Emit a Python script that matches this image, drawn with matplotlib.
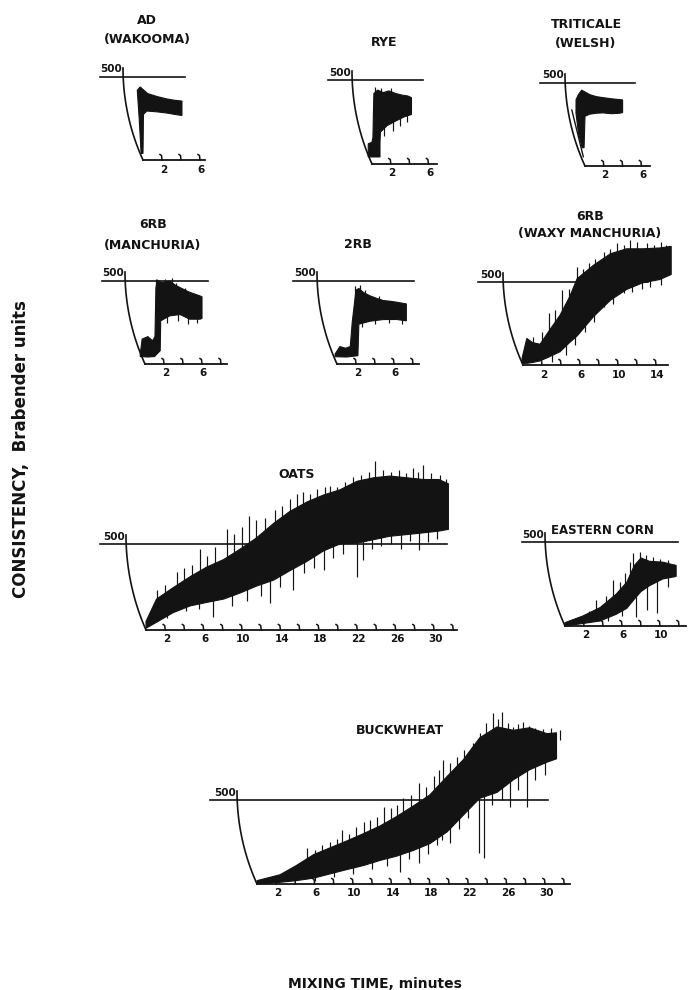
"""
Farinograph mixing curves for nine cereal flours, redrawn on one sheet.
Every panel shares the same scale: about 9.5 px per minute, 500 BU ~ 84 px.
"""

import numpy as np
import matplotlib.pyplot as plt

W, H = 688, 990
INK = "#131313"
plt.rcParams["font.family"] = ["DejaVu Sans"]

# ---- traces: upper / lower edge of each band (minutes, Brabender units) ----
AD_UP_T = [-0.2, -0.4, -0.6, -0.3, 0.5, 1.5, 2.5, 3.3, 4.1]
AD_UP_BU = [40, 250, 420, 440, 400, 382, 368, 360, 355]
AD_LO_T = [0.0, 0.05, 0.4, 1.5, 2.5, 3.3, 4.1]
AD_LO_BU = [40, 275, 295, 290, 283, 275, 268]

RYE_UP_T = [-0.4, -0.4, 0.0, 0.1, 0.15, 0.2, 0.6, 1.2, 1.8, 2.5, 3.2, 3.8, 4.2]
RYE_UP_BU = [42, 120, 130, 160, 300, 420, 440, 425, 435, 420, 410, 405, 395]
RYE_LO_T = [-0.4, 0.85, 0.85, 0.9, 1.6, 2.6, 3.4, 4.2]
RYE_LO_BU = [42, 42, 130, 190, 228, 258, 280, 295]
RYE_SPK_UP_T = [0.3, 1.0, 2.0]
RYE_SPK_UP_BU = [460, 452, 450]
RYE_SPK_DN_T = [1.3, 2.2, 3.0, 3.7]
RYE_SPK_DN_BU = [165, 195, 225, 250]

TRI_UP_T = [-0.3, -0.7, -0.96, -0.95, -0.7, -0.35, 0.5, 1.2, 1.9, 2.8, 3.7, 4.0]
TRI_UP_BU = [110, 199, 319, 400, 430, 457, 430, 418, 412, 405, 400, 398]
TRI_LO_T = [-0.1, 0.0, 0.5, 1.2, 1.9, 2.8, 3.7, 4.0]
TRI_LO_BU = [110, 300, 312, 318, 320, 315, 318, 322]
TRI_TRACE_T = [-1.4, -0.18]
TRI_TRACE_BU = [337, 56]

MAN_UP_T = [-0.5, -0.3, 0.3, 0.8, 1.05, 1.15, 1.3, 1.75, 2.6, 3.2, 3.7, 4.7, 5.8, 6.0]
MAN_UP_BU = [60, 150, 165, 140, 165, 460, 506, 490, 500, 475, 460, 432, 410, 405]
MAN_LO_T = [-0.5, 0.3, 1.0, 1.6, 1.65, 2.6, 3.7, 4.7, 5.8, 6.0]
MAN_LO_BU = [45, 42, 45, 80, 260, 290, 298, 270, 270, 275]
MAN_SPK_UP_T = [1.2, 2.1, 2.8, 3.3, 4.2]
MAN_SPK_UP_BU = [515, 510, 516, 490, 455]
MAN_SPK_DN_T = [2.3, 3.5, 4.5, 5.5]
MAN_SPK_DN_BU = [250, 260, 240, 245]

TWO_UP_T = [-0.2, 0.3, 0.9, 1.4, 1.6, 2.0, 2.3, 2.8, 3.5, 4.2, 4.9, 5.6, 6.3, 7.3]
TWO_UP_BU = [60, 105, 95, 105, 250, 445, 455, 430, 410, 395, 382, 378, 372, 362]
TWO_LO_T = [-0.2, 1.0, 2.2, 2.3, 3.5, 4.9, 6.3, 7.3]
TWO_LO_BU = [44, 42, 50, 240, 258, 268, 268, 260]
TWO_SPK_UP_T = [1.9, 2.4, 3.0, 4.4]
TWO_SPK_UP_BU = [470, 478, 445, 410]
TWO_SPK_DN_T = [2.6, 4.0, 5.5, 6.8]
TWO_SPK_DN_BU = [225, 240, 245, 240]

WAXY_T = [-0.1, 0.4, 1.0, 1.8, 2.8, 3.9, 4.9, 5.7, 7.4, 9.2, 10.9, 12.6, 14.4, 15.6]
WAXY_UP = [40, 160, 135, 125, 210, 300, 410, 520, 600, 670, 700, 700, 705, 715]
WAXY_LO = [10, 10, 15, 25, 50, 80, 135, 175, 290, 390, 455, 495, 515, 545]
WAXY_SPK_UP_T = [1.0, 2.0, 2.7, 3.4, 4.1, 4.8, 5.65, 6.3, 6.9, 7.6, 8.5, 9.2,
                 9.9, 10.6, 11.3, 12.0, 13.0, 13.8, 14.5, 15.1]
WAXY_SPK_UP_BU = [170, 200, 311, 330, 451, 460, 592, 580, 612, 640, 682, 700,
                  732, 720, 752, 740, 732, 720, 740, 722]
WAXY_SPK_DN_T = [3.0, 4.5, 5.5, 6.5, 7.5, 8.5, 9.5, 10.6, 11.5, 12.5, 13.4, 14.5]
WAXY_SPK_DN_BU = [20, 60, 120, 200, 260, 351, 370, 431, 440, 460, 472, 480]

OATS_T = [0.0, 1.1, 2.8, 4.6, 6.3, 8.1, 9.8, 11.5, 13.3, 15.0, 16.8, 18.5,
          20.2, 22.0, 23.7, 25.4, 27.2, 28.9, 30.5, 31.5]
OATS_UP = [50, 180, 245, 310, 365, 410, 470, 535, 620, 690, 745, 785,
           815, 865, 885, 895, 885, 875, 875, 850]
OATS_LO = [10, 45, 100, 140, 160, 180, 215, 255, 290, 345, 400, 460,
           500, 505, 525, 545, 555, 565, 575, 585]
OATS_SPK_UP_T = [1.1, 2.0, 3.2, 4.0, 4.8, 5.6, 6.4, 7.2, 8.4, 9.2, 10.0, 10.7,
                 11.5, 12.4, 13.4, 14.2, 15.0, 15.7, 16.4, 17.1, 17.8, 18.6,
                 19.2, 19.9, 20.7, 21.6, 22.4, 23.2, 23.9, 24.7, 25.5, 26.4,
                 27.1, 27.8, 28.3, 28.9, 29.7, 30.6, 31.2]
OATS_SPK_UP_BU = [230, 260, 340, 360, 380, 470, 430, 480, 590, 560, 600, 660,
                  640, 650, 700, 720, 760, 790, 800, 790, 820, 830,
                  840, 830, 860, 890, 900, 920, 980, 930, 920, 930,
                  910, 940, 920, 960, 910, 900, 880]
OATS_SPK_DN_T = [2.2, 4.2, 5.5, 7.0, 9.0, 10.5, 12.0, 12.9, 14.0, 15.35, 16.5,
                 17.5, 18.5, 19.5, 20.5, 22.0, 22.6, 23.5, 24.5, 25.5, 26.6,
                 27.5, 28.4, 29.4, 30.3]
OATS_SPK_DN_BU = [70, 110, 120, 77, 140, 170, 200, 155, 250, 233, 330,
                  360, 349, 420, 440, 310, 407, 470, 490, 500, 470,
                  520, 465, 513, 530]

CORN_T = [0.0, 1.9, 3.7, 5.4, 6.5, 7.3, 8.0, 8.9, 10.3, 11.7]
CORN_UP = [20, 60, 110, 190, 260, 360, 405, 385, 380, 360]
CORN_LO = [0, 15, 30, 70, 105, 160, 205, 240, 280, 295]
CORN_SPK_UP_T = [2.5, 3.3, 4.3, 5.1, 5.8, 6.3, 6.8, 7.2, 7.9, 8.5, 9.3, 10.0,
                 10.8, 11.5]
CORN_SPK_UP_BU = [90, 155, 180, 274, 260, 315, 380, 432, 442, 420, 412, 400,
                  390, 370]
CORN_SPK_DN_T = [4.5, 6.0, 7.5, 8.6, 9.7, 10.8]
CORN_SPK_DN_BU = [30, 60, 55, 95, 75, 230]

BUCK_T = [0.0, 2.4, 4.1, 5.9, 7.6, 9.3, 11.1, 12.8, 14.5, 16.3, 18.0, 19.8,
          21.5, 23.2, 25.0, 26.7, 28.4, 30.2, 31.2]
BUCK_UP = [20, 55, 110, 175, 215, 255, 300, 345, 400, 465, 530, 640,
           740, 870, 935, 915, 930, 895, 900]
BUCK_LO = [0, 10, 20, 35, 60, 85, 110, 140, 165, 200, 240, 310,
           410, 510, 545, 620, 680, 725, 745]
BUCK_SPK_UP_T = [3.0, 4.0, 5.2, 6.0, 6.8, 7.6, 8.3, 8.9, 9.6, 10.3, 11.1, 11.8,
                 12.5, 13.2, 14.0, 14.6, 15.2, 16.0, 16.9, 17.6, 18.4, 19.0,
                 19.4, 20.1, 20.8, 21.6, 22.5, 23.2, 23.9, 24.6, 25.1, 25.5,
                 26.1, 26.7, 27.2, 27.7, 28.3, 29.0, 29.8, 30.6, 31.6]
BUCK_SPK_UP_BU = [70, 110, 212, 200, 230, 250, 270, 321, 300, 340, 371, 380,
                  400, 460, 450, 470, 510, 530, 600, 580, 640, 680,
                  738, 720, 758, 800, 837, 900, 960, 1015, 980, 1025,
                  960, 936, 950, 966, 940, 930, 920, 930, 916]
BUCK_SPK_DN_T = [6.0, 8.0, 10.0, 12.0, 13.5, 14.9, 15.8, 16.9, 17.8, 18.7,
                 19.3, 20.1, 21.0, 22.0, 23.1, 23.6, 24.5, 25.5, 26.4, 27.2,
                 28.1, 29.0, 30.0]
BUCK_SPK_DN_BU = [15, 40, 60, 90, 110, 73, 150, 123, 180, 230,
                  260, 242, 330, 390, 183, 153, 470, 500, 460, 560,
                  460, 620, 650]

# ---- sheet layout, pixel positions measured off the original ----
# (key, title lines, title x, title y's, origin x, origin y, y of 500 line,
#  px per minute, axis length in minutes, 500 line from/to x, labelled ticks)
LAYOUT = [
    ("AD", ["AD", "(WAKOOMA)"], 147, [21, 40], 143, 160, 77, 9.5, 6.5, (100, 185), [2, 6]),
    ("RYE", ["RYE"], 384, [42], 372, 164, 80, 9.4, 6.9, (328, 423), [2, 6]),
    ("TRI", ["TRITICALE", "(WELSH)"], 586, [24, 43], 585, 166, 83, 9.4, 6.9, (540, 635), [2, 6]),
    ("MAN", ["6RB", "(MANCHURIA)"], 153, [224, 245], 145, 364, 281, 9.5, 8.6, (102, 208), [2, 6]),
    ("TWO", ["2RB"], 358, [244], 337, 364, 281, 9.5, 8.6, (293, 414), [2, 6]),
    ("WAXY", ["6RB", "(WAXY MANCHURIA)"], 590, [217, 233], 523, 365, 282, 9.5, 15.3, (478, 648),
     [2, 6, 10, 14]),
    ("OATS", ["OATS"], 297, [475], 146, 630, 544, 9.6, 32.4, (100, 447),
     [2, 6, 10, 14, 18, 22, 26, 30]),
    ("CORN", ["EASTERN CORN"], 602, [530], 565, 626, 542, 9.5, 12.7, (522, 678), [2, 6, 10]),
    ("BUCK", ["BUCKWHEAT"], 400, [731], 257, 884, 800, 9.6, 32.6, (210, 548),
     [2, 6, 10, 14, 18, 22, 26, 30]),
]

TRACES = {
    "AD": (AD_UP_T, AD_UP_BU, AD_LO_T, AD_LO_BU, None, None),
    "RYE": (RYE_UP_T, RYE_UP_BU, RYE_LO_T, RYE_LO_BU,
            (RYE_SPK_UP_T, RYE_SPK_UP_BU), (RYE_SPK_DN_T, RYE_SPK_DN_BU)),
    "TRI": (TRI_UP_T, TRI_UP_BU, TRI_LO_T, TRI_LO_BU, None, None),
    "MAN": (MAN_UP_T, MAN_UP_BU, MAN_LO_T, MAN_LO_BU,
            (MAN_SPK_UP_T, MAN_SPK_UP_BU), (MAN_SPK_DN_T, MAN_SPK_DN_BU)),
    "TWO": (TWO_UP_T, TWO_UP_BU, TWO_LO_T, TWO_LO_BU,
            (TWO_SPK_UP_T, TWO_SPK_UP_BU), (TWO_SPK_DN_T, TWO_SPK_DN_BU)),
    "WAXY": (WAXY_T, WAXY_UP, WAXY_T, WAXY_LO,
             (WAXY_SPK_UP_T, WAXY_SPK_UP_BU), (WAXY_SPK_DN_T, WAXY_SPK_DN_BU)),
    "OATS": (OATS_T, OATS_UP, OATS_T, OATS_LO,
             (OATS_SPK_UP_T, OATS_SPK_UP_BU), (OATS_SPK_DN_T, OATS_SPK_DN_BU)),
    "CORN": (CORN_T, CORN_UP, CORN_T, CORN_LO,
             (CORN_SPK_UP_T, CORN_SPK_UP_BU), (CORN_SPK_DN_T, CORN_SPK_DN_BU)),
    "BUCK": (BUCK_T, BUCK_UP, BUCK_T, BUCK_LO,
             (BUCK_SPK_UP_T, BUCK_SPK_UP_BU), (BUCK_SPK_DN_T, BUCK_SPK_DN_BU)),
}

ARC_DX = 20.0   # px the recorder arc leans left over its height
ARC_OVER = 9.0  # px the arc rises above the 500 line


def panel_axes(fig, ox, oy, y500, ppm, tmax):
    """Axes whose data units (min, BU) land on the measured pixel grid."""
    ppb = (oy - y500) / 500.0
    tmin, tend, bmin, bmax = -8.0, tmax + 2.0, -150.0, 1150.0
    left, right = ox + tmin * ppm, ox + tend * ppm
    bottom, top = oy - bmin * ppb, oy - bmax * ppb
    ax = fig.add_axes([left / W, 1 - bottom / H, (right - left) / W, (bottom - top) / H])
    ax.set_xlim(tmin, tend)
    ax.set_ylim(bmin, bmax)
    ax.axis("off")
    return ax, ppb


def draw_frame(ax, ox, ppm, ppb, tmax, line_x, labels):
    # recorder arc: vertical at the top, meeting the time axis at zero
    h_top = 500 * ppb + ARC_OVER
    r = (ARC_DX ** 2 + h_top ** 2) / (2 * ARC_DX)
    h = np.linspace(0, h_top, 80)
    xp = -ARC_DX + r - np.sqrt(r ** 2 - (h_top - h) ** 2)
    ax.plot(xp / ppm, h / ppb, color=INK, lw=1.2, clip_on=False)

    ax.plot([(line_x[0] - ox) / ppm, (line_x[1] - ox) / ppm], [500, 500],
            color=INK, lw=1.2, clip_on=False)
    ax.text((-ARC_DX - 1.5) / ppm, 500 + 2.5 / ppb, "500", ha="right", va="bottom",
            fontsize=7.5, fontweight="bold", color=INK)

    ax.plot([0, tmax], [0, 0], color=INK, lw=1.3, clip_on=False)
    for t in np.arange(2, tmax, 2):
        ax.plot([t - 2.0 / ppm, t - 0.5 / ppm, t], [5.5 / ppb, 4.5 / ppb, 0],
                color=INK, lw=1.1, clip_on=False)
    for t in labels:
        ax.text(t + 0.15, -9.5 / ppb, str(t), ha="center", va="center",
                fontsize=7.5, fontweight="bold", color=INK)


def draw_trace(ax, up_t, up_bu, lo_t, lo_bu, spk_up, spk_dn):
    xs = np.r_[up_t, np.asarray(lo_t)[::-1]]
    ys = np.r_[up_bu, np.asarray(lo_bu)[::-1]]
    ax.fill(xs, ys, color=INK, lw=0.8, ec=INK, clip_on=False)
    if spk_up is not None:
        t, tip = spk_up
        base = np.interp(t, up_t, up_bu) - 40
        ax.vlines(t, base, tip, color=INK, lw=0.85, clip_on=False)
    if spk_dn is not None:
        t, tip = spk_dn
        base = np.interp(t, lo_t, lo_bu) + 40
        ax.vlines(t, tip, base, color=INK, lw=0.85, clip_on=False)


def main():
    fig = plt.figure(figsize=(W / 100, H / 100), dpi=100)
    fig.patch.set_facecolor("white")

    for key, title, tx, ty, ox, oy, y500, ppm, tmax, line_x, labels in LAYOUT:
        ax, ppb = panel_axes(fig, ox, oy, y500, ppm, tmax)
        draw_frame(ax, ox, ppm, ppb, tmax, line_x, labels)
        draw_trace(ax, *TRACES[key])
        if key == "TRI":
            ax.plot(TRI_TRACE_T, TRI_TRACE_BU, color=INK, lw=1.0, clip_on=False)
        size = 8.5 if key == "CORN" else 9
        for line, y in zip(title, ty):
            fig.text(tx / W, 1 - y / H, line, ha="center", va="center",
                     fontsize=size, fontweight="bold", color=INK)

    fig.text(21 / W, 1 - 449 / H, "CONSISTENCY,  Brabender units", rotation=90,
             ha="center", va="center", fontsize=12, fontweight="bold", color=INK)
    fig.text(375 / W, 1 - 984 / H, "MIXING TIME, minutes", ha="center", va="center",
             fontsize=10, fontweight="bold", color=INK)

    fig.savefig("out.png", dpi=100, facecolor="white")
    plt.close(fig)


if __name__ == "__main__":
    main()
